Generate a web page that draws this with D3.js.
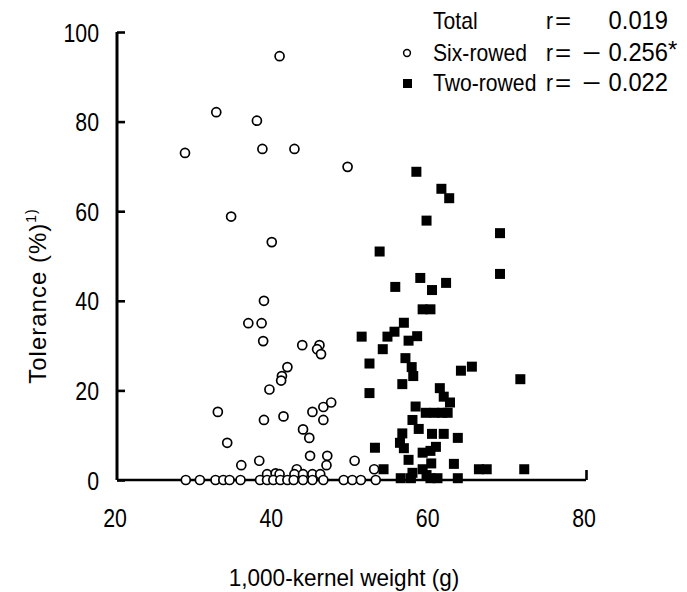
<!DOCTYPE html>
<html>
<head>
<meta charset="utf-8">
<script src="https://cdn.jsdelivr.net/npm/d3@7"></script>
<style>
  html, body { margin: 0; padding: 0; background: #fff; }
  svg { display: block; }
  text { font-family: "Liberation Sans", Arial, Helvetica, sans-serif; fill: #000; }
</style>
</head>
<body>
<svg id="chart" width="687" height="592"></svg>
<script>
// ---- data ----
const xTicks = [20, 40, 60, 80];
const yTicks = [0, 20, 40, 60, 80, 100];
const xTitle = "1,000-kernel weight (g)";
const yTitle = "Tolerance (%)";
const yTitleSup = "1)";

// Six-rowed: [1,000-kernel weight (g), tolerance (%)]
const sixRowed = [
  [40.8,94.6],[32.7,82.1],[37.9,80.2],[28.7,73.0],[38.6,73.9],[42.7,73.9],[49.5,69.9],
  [34.6,58.8],[39.8,53.1],[38.8,40.0],[36.8,35.0],[38.5,35.0],[38.7,31.0],
  [43.7,30.1],[45.9,30.1],[45.6,29.2],[46.1,28.1],[41.8,25.2],[41.1,23.2],[41.0,22.2],
  [39.5,20.2],[32.9,15.2],[38.8,13.4],[41.3,14.2],[45.0,15.2],[46.4,16.3],[47.4,17.3],
  [46.4,13.4],[34.1,8.3],[43.8,11.3],[44.6,9.4],[44.7,5.4],[46.9,5.4],[46.8,3.3],
  [50.4,4.3],[52.9,2.4],[38.2,4.3],[35.9,3.3],[39.2,1.3],[40.3,1.5],[40.8,1.3],
  [43.0,2.4],[42.7,1.3],[43.8,1.3],[45.0,1.3],[46.0,1.3],
  [28.8,0],[30.6,0],[32.6,0],[33.6,0],[34.4,0],[35.8,0],[38.3,0],[39.2,0],[40.0,0],
  [40.9,0],[41.8,0],[42.6,0],[43.8,0],[45.0,0],[46.4,0],[49.0,0],[50.1,0],[51.2,0],[53.1,0]
];

// Two-rowed: [1,000-kernel weight (g), tolerance (%)]
const twoRowed = [
  [58.3,68.8],[61.5,65.0],[62.5,62.9],[59.6,57.9],[69.0,55.1],[53.6,51.0],[69.0,46.0],
  [58.8,45.1],[62.1,44.0],[55.6,43.1],[60.3,42.4],[59.1,38.1],[60.1,38.1],[56.7,35.1],
  [55.5,33.1],[54.6,32.0],[58.4,32.1],[57.3,31.1],[51.3,32.0],[54.0,29.2],[52.3,26.0],
  [56.9,27.2],[57.7,25.2],[57.9,23.2],[65.4,25.3],[64.0,24.4],[56.5,21.4],[52.3,19.4],
  [71.6,22.5],[61.3,20.5],[61.8,18.6],[62.6,17.3],[58.2,16.4],[59.5,15.0],[60.6,15.0],
  [61.6,15.0],[62.3,15.0],[57.8,13.4],[58.6,11.4],[56.5,10.4],[56.2,8.3],[60.3,10.3],
  [61.8,10.3],[63.6,9.4],[53.0,7.2],[56.7,7.1],[60.8,7.4],[59.1,6.1],[60.1,6.5],
  [57.3,4.5],[60.2,3.7],[63.1,3.6],[54.1,2.4],[66.3,2.4],[67.3,2.4],[72.1,2.4],
  [59.1,2.4],[57.8,1.6],[59.6,1.1],[56.3,0.4],[57.6,0.4],[60.1,0.4],[61.0,0.4],[63.6,0.4]
];

const legendRows = [
  { label: "Total",     sign: "",  value: "0.019", star: "",  marker: "none" },
  { label: "Six-rowed", sign: "−", value: "0.256", star: "*", marker: "circle" },
  { label: "Two-rowed", sign: "−", value: "0.022", star: "",  marker: "square" }
];

// ---- drawing ----
const svg = d3.select("#chart");
const x = d3.scaleLinear().domain([20, 80]).range([117, 586]);
const y = d3.scaleLinear().domain([0, 100]).range([480, 32]);

function txt(parent, px, py, str, anchor, size, sx) {
  const g = parent.append("g").attr("transform", `translate(${px},${py}) scale(${sx},1)`);
  return g.append("text").attr("text-anchor", anchor).attr("font-size", size).text(str);
}

// Y axis: ticks pointing inward (right)
const yAxis = d3.axisRight(y).tickValues(yTicks).tickSize(8).tickFormat("");
const gy = svg.append("g").attr("transform", `translate(${x(20)},0)`).call(yAxis);
gy.select(".domain").attr("stroke", "#000").attr("stroke-width", 3)
  .attr("d", `M0,${y(0)}V${y(100)}`);
gy.selectAll(".tick line").attr("stroke", "#000").attr("stroke-width", 2.6);
yTicks.forEach(v => txt(svg, 99, y(v) + 9.5, String(v), "end", 26, 0.82));

// X axis: baseline with an upward end tick
const xAxis = d3.axisTop(x).tickValues([80]).tickSize(10).tickFormat("");
const gx = svg.append("g").attr("transform", `translate(0,${y(0)})`).call(xAxis);
gx.select(".domain").attr("stroke", "#000").attr("stroke-width", 2.6)
  .attr("d", `M${x(20)},0H${x(80)}`);
gx.selectAll(".tick line").attr("stroke", "#000").attr("stroke-width", 2.6);
xTicks.forEach(v => txt(svg, x(v) - 2, 527, String(v), "middle", 26, 0.82));

// Axis titles
txt(svg, 344, 586, xTitle, "middle", 23, 0.98);
const yt = svg.append("g").attr("transform", "translate(46,296) rotate(-90)");
const ytText = yt.append("text").attr("text-anchor", "middle").attr("font-size", 24)
  .attr("letter-spacing", 1);
ytText.append("tspan").text(yTitle);
ytText.append("tspan").attr("font-size", 14).attr("dy", -10).text(yTitleSup);

// Points
svg.append("g").selectAll("circle").data(sixRowed).join("circle")
  .attr("cx", d => x(d[0])).attr("cy", d => y(d[1])).attr("r", 4.5)
  .attr("fill", "#fff").attr("stroke", "#000").attr("stroke-width", 1.7);

const sq = 10;
svg.append("g").selectAll("rect").data(twoRowed).join("rect")
  .attr("x", d => x(d[0]) - sq / 2).attr("y", d => y(d[1]) - sq / 2)
  .attr("width", sq).attr("height", sq).attr("fill", "#000");

// Legend
const legY = [29, 61, 91];
legendRows.forEach((r, i) => {
  const by = legY[i];
  if (r.marker === "circle") {
    svg.append("circle").attr("cx", 407).attr("cy", by - 8).attr("r", 3.4)
      .attr("fill", "#fff").attr("stroke", "#000").attr("stroke-width", 1.5);
  } else if (r.marker === "square") {
    svg.append("rect").attr("x", 403).attr("y", by - 12).attr("width", 9).attr("height", 9).attr("fill", "#000");
  }
  txt(svg, 433, by, r.label, "start", 23, 0.92);
  txt(svg, 546, by, "r", "start", 23, 0.92);
  txt(svg, 555, by, "=", "start", 24, 1.15);
  if (r.sign) txt(svg, 582, by, r.sign, "start", 24, 1.35);
  txt(svg, 668, by, r.value, "end", 25, 0.95);
  if (r.star) txt(svg, 668, by - 3, r.star, "start", 24, 1.0);
});
</script>
</body>
</html>
